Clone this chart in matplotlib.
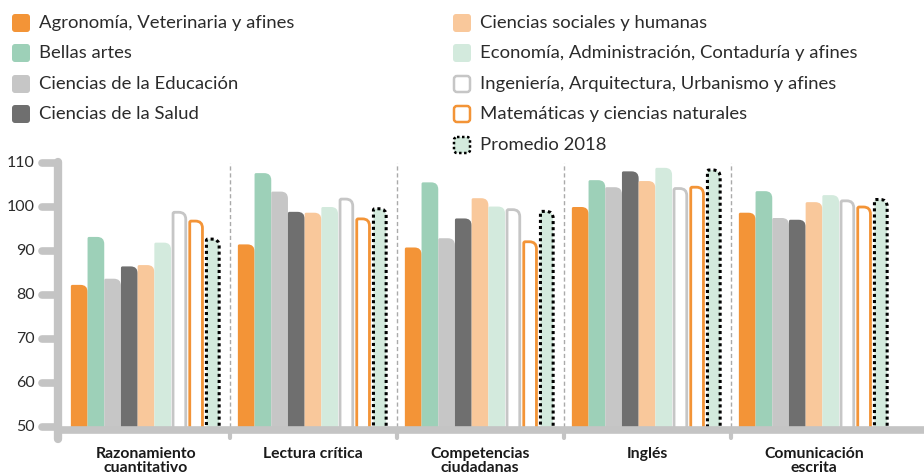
import matplotlib.pyplot as plt
from matplotlib.path import Path
from matplotlib.patches import PathPatch, FancyBboxPatch

plt.rcParams['font.family'] = ['Lato', 'DejaVu Sans']

categories = ['Razonamiento\ncuantitativo', 'Lectura crítica', 'Competencias\nciudadanas',
              'Inglés', 'Comunicación\nescrita']
series_names = ['Agronomía, Veterinaria y afines', 'Bellas artes', 'Ciencias de la Educación',
                'Ciencias de la Salud', 'Ciencias sociales y humanas',
                'Economía, Administración, Contaduría y afines',
                'Ingeniería, Arquitectura, Urbanismo y afines',
                'Matemáticas y ciencias naturales', 'Promedio 2018']

agronomia = [82.3, 91.5, 90.8, 100.0, 98.7]
bellas_artes = [93.2, 107.7, 105.6, 106.1, 103.6]
educacion = [83.7, 103.5, 92.9, 104.5, 97.5]
salud = [86.5, 98.9, 97.4, 108.1, 97.1]
sociales = [86.8, 98.7, 102.0, 105.9, 101.1]
economia = [91.9, 100.0, 100.1, 108.9, 102.7]
ingenieria = [98.8, 101.8, 99.4, 104.2, 101.4]
matematicas = [96.8, 97.3, 92.1, 104.5, 100.0]
promedio = [92.7, 99.6, 99.0, 108.4, 101.7]
yticks = [50, 60, 70, 80, 90, 100, 110]

values = [agronomia, bellas_artes, educacion, salud, sociales, economia,
          ingenieria, matematicas, promedio]

# (face, edge, linestyle) per series
styles = [
    ('#f39437', None, None),
    ('#9dd0b8', None, None),
    ('#c6c6c6', None, None),
    ('#6f6f6f', None, None),
    ('#f9c89b', None, None),
    ('#d3eadd', None, None),
    ('white', '#c6c6c6', '-'),
    ('white', '#f39437', '-'),
    ('#d3eadd', 'black', (0, (1, 1))),
]

W, H = 924, 476
fig = plt.figure(figsize=(W / 100, H / 100), dpi=100)

# px mapping: group centre 0 at x=146px, group width 167px; value 50 at y=427px, 4.4px per unit
gw = 167.0
x_left = (58 - 146) / gw
x_right = (924 - 146) / gw
ylo, yhi = 46, 113
ax = fig.add_axes([58 / W, (H - (427 + (50 - ylo) * 4.4)) / H, (W - 58) / W, (yhi - ylo) * 4.4 / H])
ax.set_xlim(x_left, x_right)
ax.set_ylim(ylo, yhi)
ax.axis('off')

bw = 16.7 / gw
rx, ry = 7 / gw, 7 / 4.4
lx, ly = 1.5 / gw, 1.5 / 4.4


def bar_path(x0, x1, top, base):
    verts = [(x0, base), (x1, base), (x1, top - ry), (x1, top), (x1 - rx, top),
             (x0 + lx, top), (x0, top), (x0, top - ly), (x0, base)]
    codes = [Path.MOVETO, Path.LINETO, Path.LINETO, Path.CURVE3, Path.CURVE3,
             Path.LINETO, Path.CURVE3, Path.CURVE3, Path.CLOSEPOLY]
    return Path(verts, codes)


for j, (vals, (fc, ec, ls)) in enumerate(zip(values, styles)):
    for i, v in enumerate(vals):
        xc = i + (j - 4) * bw
        x0, x1 = xc - bw / 2, xc + bw / 2
        if ec is None:
            p = PathPatch(bar_path(x0, x1, v, 49), facecolor=fc, edgecolor='none', zorder=2)
        else:
            inset = 2.0 / gw
            p = PathPatch(bar_path(x0 + inset, x1 - inset, v, 49), facecolor=fc, edgecolor=ec,
                          linewidth=2.0 if ls == '-' else 2.2, linestyle=ls, zorder=2,
                          capstyle='butt')
        ax.add_patch(p)

# separators between groups
for i in range(len(categories) - 1):
    ax.plot([i + 0.5, i + 0.5], [50, 110], color='#aaaaaa', lw=1, ls=(0, (3, 2)), zorder=1)
    ax.plot([i + 0.5, i + 0.5], [49.4, 47.6], color='#c4c4c4', lw=3,
            solid_capstyle='round', zorder=3, clip_on=False)

# axis lines
axc = '#c4c4c4'
ax.plot([x_left, x_left], [47.2, 110.3], color=axc, lw=6, solid_capstyle='round',
        zorder=4, clip_on=False)
ax.plot([x_left, x_right + 0.1], [49.4, 49.4], color=axc, lw=5.5, solid_capstyle='round',
        zorder=4, clip_on=False)
tx0 = (42 - 146) / gw
for t in yticks:
    ax.plot([tx0, x_left], [t, t], color=axc, lw=5.5, solid_capstyle='round',
            zorder=4, clip_on=False)
    ax.text((35 - 146) / gw, t, str(t), ha='right', va='center', fontsize=11.5,
            color='#2b2b2b', clip_on=False)

for i, c in enumerate(categories):
    ax.text(i, 45.4, c, ha='center', va='top', fontsize=11.3, fontweight='bold',
            color='#1a1a1a', linespacing=1.0, clip_on=False)

# legend drawn in pixel space
lg = fig.add_axes([0, 0, 1, 1])
lg.set_xlim(0, W)
lg.set_ylim(H, 0)
lg.axis('off')
rows_left = [23, 53, 84, 114]
rows_right = [23, 53, 84, 114, 145]
positions = [(12, y) for y in rows_left] + [(453, y) for y in rows_right]
for (px, py), name, (fc, ec, ls) in zip(positions, series_names, styles):
    s = 18
    if ec is None:
        box = FancyBboxPatch((px + 3, py - s / 2 + 3), s - 6, s - 6,
                             boxstyle='round,pad=3', facecolor=fc, edgecolor='none')
    else:
        box = FancyBboxPatch((px + 4, py - s / 2 + 4), s - 8, s - 8,
                             boxstyle='round,pad=3', facecolor=fc, edgecolor=ec,
                             linewidth=1.8, linestyle=ls)
    lg.add_patch(box)
    lg.text(px + 27, py, name, ha='left', va='center', fontsize=13.3,
            color='#2b2b2b')

fig.savefig('out.png', dpi=100)
